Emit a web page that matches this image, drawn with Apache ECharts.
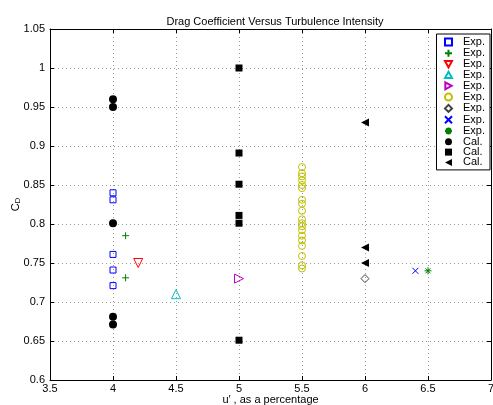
<!DOCTYPE html>
<html><head><meta charset="utf-8">
<script src="https://cdn.jsdelivr.net/npm/echarts@6/dist/echarts.min.js"></script>
<style>html,body{margin:0;padding:0;background:#fff}#c{width:493px;height:405px}</style>
</head><body><div id="c"></div>
<script>
// ---- data ----
var xTicks = [3.5, 4, 4.5, 5, 5.5, 6, 6.5, 7];
var yTicks = [0.6, 0.65, 0.7, 0.75, 0.8, 0.85, 0.9, 0.95, 1, 1.05];
var expSquares = [[4, 0.84], [4, 0.831], [4, 0.761], [4, 0.741], [4, 0.721]];
var expPlus = [[4.1, 0.785], [4.1, 0.731]];
var expTriDown = [[4.2, 0.75]];
var expTriUp = [[4.5, 0.71]];
var expTriRight = [[5, 0.73]];
var expCircleX = 5.5;
var expCircleY = [0.873, 0.865, 0.861, 0.856, 0.85, 0.846, 0.831, 0.826, 0.817, 0.806, 0.801, 0.797, 0.792, 0.785, 0.779, 0.772, 0.759, 0.747, 0.743];
var expDiamond = [[6, 0.73]];
var expCross = [[6.4, 0.74]];
var expStar = [[6.5, 0.74]];
var calCircles = [[4, 0.96], [4, 0.95], [4, 0.801], [4, 0.681], [4, 0.671]];
var calSquares = [[5, 1.0], [5, 0.891], [5, 0.851], [5, 0.811], [5, 0.801], [5, 0.651]];
var calTriLeft = [[6, 0.93], [6, 0.77], [6, 0.75]];
var legendNames = ['Exp.', 'Exp.', 'Exp.', 'Exp.', 'Exp.', 'Exp.', 'Exp.', 'Exp.', 'Exp.', 'Cal.', 'Cal.', 'Cal.'];

var FONT = 'Liberation Sans, Arial, sans-serif';
function hollow(i, data, symbol, color, size) {
  return {
    name: legendNames[i] + '#' + i, type: 'scatter', data: data,
    symbol: symbol, symbolSize: size,
    itemStyle: { color: 'none', borderColor: color, borderWidth: 1, opacity: 1 },
    emphasis: { disabled: true }, animation: false
  };
}
function filled(i, data, symbol, size) {
  return {
    name: legendNames[i] + '#' + i, type: 'scatter', data: data,
    symbol: symbol, symbolSize: size,
    itemStyle: { color: '#000', borderColor: '#000', borderWidth: 0, opacity: 1 },
    emphasis: { disabled: true }, animation: false
  };
}
var STAR = 'path://M1,0L1,2M0,1L2,1M0.3,0.3L1.7,1.7M1.7,0.3L0.3,1.7';
var series = [
  hollow(0, expSquares, 'rect', '#0000ff', 6),
  hollow(1, expPlus, 'path://M1,0L1,2M0,1L2,1', '#008000', 7),
  hollow(2, expTriDown, 'path://M0,0L2,0L1,1.8Z', '#ff0000', 9),
  hollow(3, expTriUp, 'path://M1,0L2,1.8L0,1.8Z', '#00bfbf', 9),
  hollow(4, expTriRight, 'path://M0,0L1.8,1L0,2Z', '#bf00bf', 9),
  hollow(5, expCircleY.map(function (y) { return [expCircleX, y]; }), 'circle', '#bfbf00', 7),
  hollow(6, expDiamond, 'diamond', '#404040', 8),
  hollow(7, expCross, 'path://M0,0L2,2M2,0L0,2', '#0000ff', 6),
  hollow(8, expStar, STAR, '#008000', 7),
  filled(9, calCircles, 'circle', 8),
  filled(10, calSquares, 'rect', 7),
  filled(11, calTriLeft, 'path://M2,0L0,1L2,2Z', 8)
];
series.forEach(function (s) { s.xAxisIndex = 0; s.yAxisIndex = 0; });

var chart = echarts.init(document.getElementById('c'), null, { renderer: 'canvas' });
chart.setOption({
  animation: false,
  backgroundColor: '#fff',
  title: {
    text: 'Drag Coefficient Versus Turbulence Intensity',
    left: 270, top: 11, textAlign: 'center',
    textStyle: { fontFamily: FONT, fontSize: 11, fontWeight: 'normal', color: '#000' }
  },
  grid: { left: 50, right: 2, top: 29, bottom: 25, containLabel: false, outerBoundsMode: 'none' },
  legend: {
    right: 3, top: 34, orient: 'vertical',
    data: series.map(function (s) { return s.name; }),
    formatter: function (n) { return n.split('#')[0]; },
    itemWidth: 7, itemHeight: 7, itemGap: -0.7,
    padding: [2, 5, 2, 6],
    borderColor: '#000', borderWidth: 1, backgroundColor: '#fff',
    selectedMode: false,
    textStyle: { fontFamily: FONT, fontSize: 11, lineHeight: 10, color: '#000', padding: [0, 0, 0, 6] }
  },
  xAxis: [{
    type: 'value', min: 3.5, max: 7, interval: 0.5,
    name: 'u\u2032 , as a percentage', nameLocation: 'middle', nameGap: 14, nameMoveOverlap: false,
    nameTextStyle: { fontFamily: FONT, fontSize: 11, color: '#000' },
    axisLine: { onZero: false, lineStyle: { color: '#000', width: 1 } },
    axisTick: { inside: true, length: 4, lineStyle: { color: '#000' } },
    axisLabel: { fontFamily: FONT, fontSize: 11, color: '#000', margin: 3,
      formatter: function (v) { return xTicks.indexOf(v) >= 0 ? String(v) : ''; } },
    splitLine: { show: true, lineStyle: { type: [1, 3], color: '#999', width: 1 } }
  }, {
    type: 'value', min: 3.5, max: 7, interval: 0.5, position: 'top',
    axisLine: { show: true, onZero: false, lineStyle: { color: '#000', width: 1 } },
    axisTick: { inside: true, length: 4, lineStyle: { color: '#000' } },
    axisLabel: { show: false }, splitLine: { show: false }
  }],
  yAxis: [{
    type: 'value', min: 0.6, max: 1.05, interval: 0.05,
    name: '{a|C}{b|D}', nameLocation: 'middle', nameGap: 28, nameRotate: 90, nameMoveOverlap: false,
    nameTextStyle: { fontFamily: FONT, fontSize: 11, color: '#000',
      rich: { a: { fontFamily: FONT, fontSize: 11, color: '#000' },
              b: { fontFamily: FONT, fontSize: 8, color: '#000', verticalAlign: 'bottom', padding: [5, 0, 0, 0] } } },
    axisLine: { onZero: false, lineStyle: { color: '#000', width: 1 } },
    axisTick: { inside: true, length: 4, lineStyle: { color: '#000' } },
    axisLabel: { fontFamily: FONT, fontSize: 11, color: '#000', margin: 5,
      formatter: function (v) { var r = Math.round(v * 100) / 100; return yTicks.indexOf(r) >= 0 ? String(r) : ''; } },
    splitLine: { show: true, lineStyle: { type: [1, 3], color: '#999', width: 1 } }
  }, {
    type: 'value', min: 0.6, max: 1.05, interval: 0.05, position: 'right',
    axisLine: { show: true, onZero: false, lineStyle: { color: '#000', width: 1 } },
    axisTick: { show: true, inside: true, length: 4, lineStyle: { color: '#000' } },
    axisLabel: { show: false }, splitLine: { show: false }
  }],
  series: series
});
</script></body></html>
